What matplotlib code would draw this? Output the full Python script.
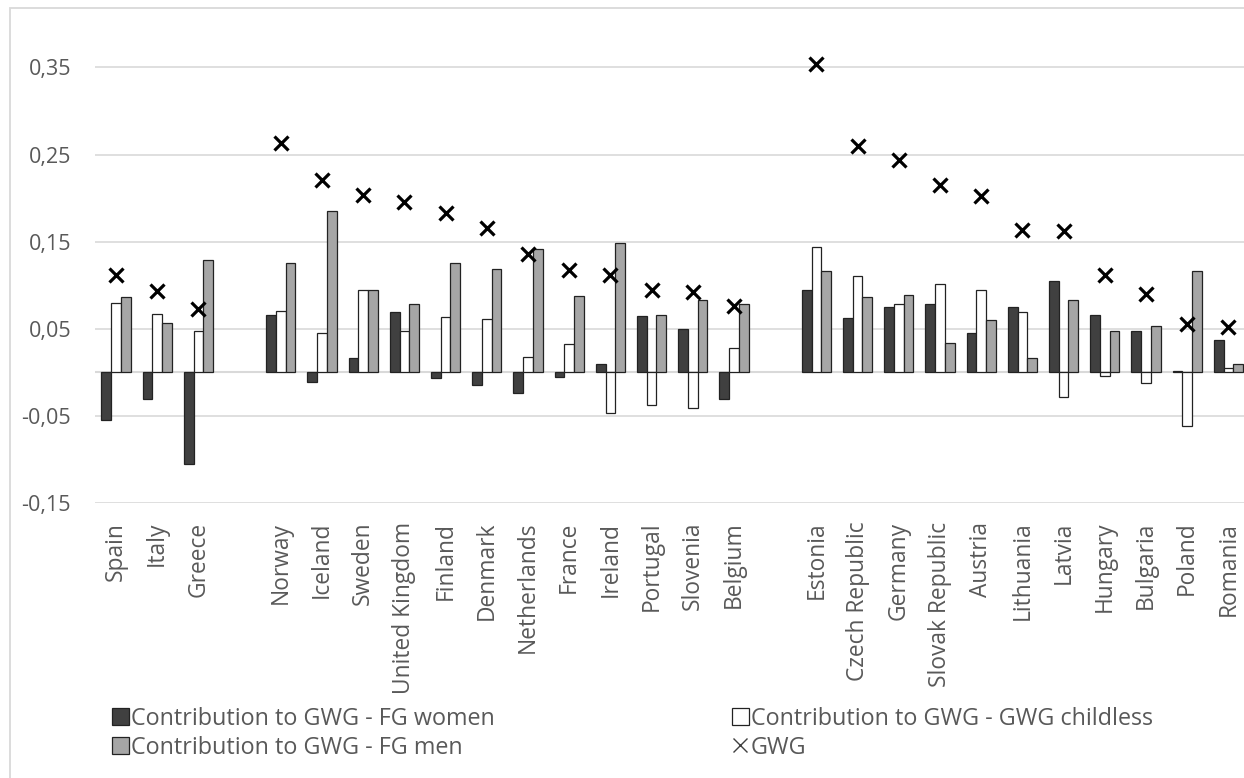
import matplotlib.pyplot as plt
from matplotlib.patches import Rectangle, Patch
from matplotlib.lines import Line2D
from matplotlib.ticker import FuncFormatter

plt.rcParams['font.family'] = ['Open Sans', 'DejaVu Sans']

# three country groups, an empty slot between groups
group_sizes = [3, 12, 11]
countries = ['Spain', 'Italy', 'Greece',
             'Norway', 'Iceland', 'Sweden', 'United Kingdom', 'Finland', 'Denmark',
             'Netherlands', 'France', 'Ireland', 'Portugal', 'Slovenia', 'Belgium',
             'Estonia', 'Czech Republic', 'Germany', 'Slovak Republic', 'Austria',
             'Lithuania', 'Latvia', 'Hungary', 'Bulgaria', 'Poland', 'Romania']

fg_women = [-0.055, -0.031, -0.105,
            0.066, -0.011, 0.016, 0.069, -0.006, -0.015, -0.024, -0.005, 0.010, 0.065, 0.050, -0.031,
            0.094, 0.062, 0.075, 0.079, 0.045, 0.075, 0.105, 0.066, 0.048, 0.001, 0.037]
gwg_childless = [0.080, 0.067, 0.047,
                 0.070, 0.045, 0.094, 0.047, 0.063, 0.061, 0.018, 0.032, -0.047, -0.037, -0.041, 0.028,
                 0.144, 0.111, 0.078, 0.101, 0.095, 0.069, -0.028, -0.004, -0.012, -0.062, 0.005]
fg_men = [0.087, 0.057, 0.129,
          0.126, 0.185, 0.094, 0.079, 0.126, 0.119, 0.141, 0.088, 0.148, 0.066, 0.083, 0.078,
          0.116, 0.087, 0.089, 0.034, 0.060, 0.017, 0.083, 0.048, 0.053, 0.116, 0.010]
gwg = [0.112, 0.093, 0.073,
       0.263, 0.221, 0.204, 0.196, 0.183, 0.166, 0.136, 0.118, 0.112, 0.094, 0.092, 0.076,
       0.354, 0.260, 0.244, 0.215, 0.202, 0.163, 0.162, 0.112, 0.090, 0.056, 0.052]

labels = ['Contribution to GWG - FG women', 'Contribution to GWG - GWG childless',
          'Contribution to GWG - FG men', 'GWG']

# x position of each country (one blank slot between groups)
pos = []
g = 0
for k, n in enumerate(group_sizes):
    pos += [g + i for i in range(n)]
    g += n + 1

texto = '#595959'
rejilla = '#d9d9d9'

fig = plt.figure(figsize=(12.44, 7.78), dpi=100)
ax = fig.add_axes([95.4 / 1244, 0.3535, (1249 - 95.4) / 1244, 0.6158])

# chart border (Excel chart area)
fig.patches.append(Rectangle((10 / 1244, -0.2), 2, 1.2 - 8 / 778, transform=fig.transFigure,
                             fill=False, edgecolor=rejilla, linewidth=1.3))

w = 0.235
ax.bar([p - w for p in pos], fg_women, w, color='#404040', edgecolor='#222222', linewidth=0.9, zorder=3)
ax.bar(pos, gwg_childless, w, color='white', edgecolor='#222222', linewidth=0.9, zorder=3)
ax.bar([p + w for p in pos], fg_men, w, color='#a6a6a6', edgecolor='#222222', linewidth=0.9, zorder=3)
ax.plot(pos, gwg, linestyle='none', marker='x', markersize=10, markeredgewidth=2.3, color='black', zorder=4)

ax.set_xlim(-0.5, pos[-1] + 0.5)
ax.set_ylim(-0.15, 0.40)
ax.set_yticks([-0.15, -0.05, 0.05, 0.15, 0.25, 0.35])
ax.yaxis.set_major_formatter(FuncFormatter(lambda v, _: f'{v:.2f}'.replace('.', ',')))
ax.grid(axis='y', color=rejilla, linewidth=1.2, zorder=0)
ax.axhline(0, color=rejilla, linewidth=1.5, zorder=1)

ax.set_xticks(pos)
ax.set_xticklabels(countries, rotation=90, va='top', ha='center')
ax.tick_params(axis='both', length=0, labelcolor=texto)
ax.tick_params(axis='x', pad=13.5, labelsize=16.4)
ax.tick_params(axis='y', pad=17.5, labelsize=15.5)
for s in ax.spines.values():
    s.set_visible(False)

handles = [Patch(facecolor='#404040', edgecolor='#222222', linewidth=0.9),
           Patch(facecolor='white', edgecolor='#222222', linewidth=0.9),
           Patch(facecolor='#a6a6a6', edgecolor='#222222', linewidth=0.9),
           Line2D([], [], linestyle='none', marker='x', markersize=10, markeredgewidth=1,
                  color='#404040')]

opts = dict(loc='upper left', frameon=False, fontsize=16.8, handlelength=0.73, handleheight=0.73,
            handletextpad=0.1, labelspacing=0.2, borderaxespad=0, borderpad=0, labelcolor=texto)
leg1 = fig.legend([handles[0], handles[2]], [labels[0], labels[2]],
                  bbox_to_anchor=(111.7 / 1244, 1 - 707 / 778), **opts)
leg2 = fig.legend([handles[1], handles[3]], [labels[1], labels[3]],
                  bbox_to_anchor=(731.7 / 1244, 1 - 707 / 778), **opts)

fig.savefig('out.png', dpi=100)
